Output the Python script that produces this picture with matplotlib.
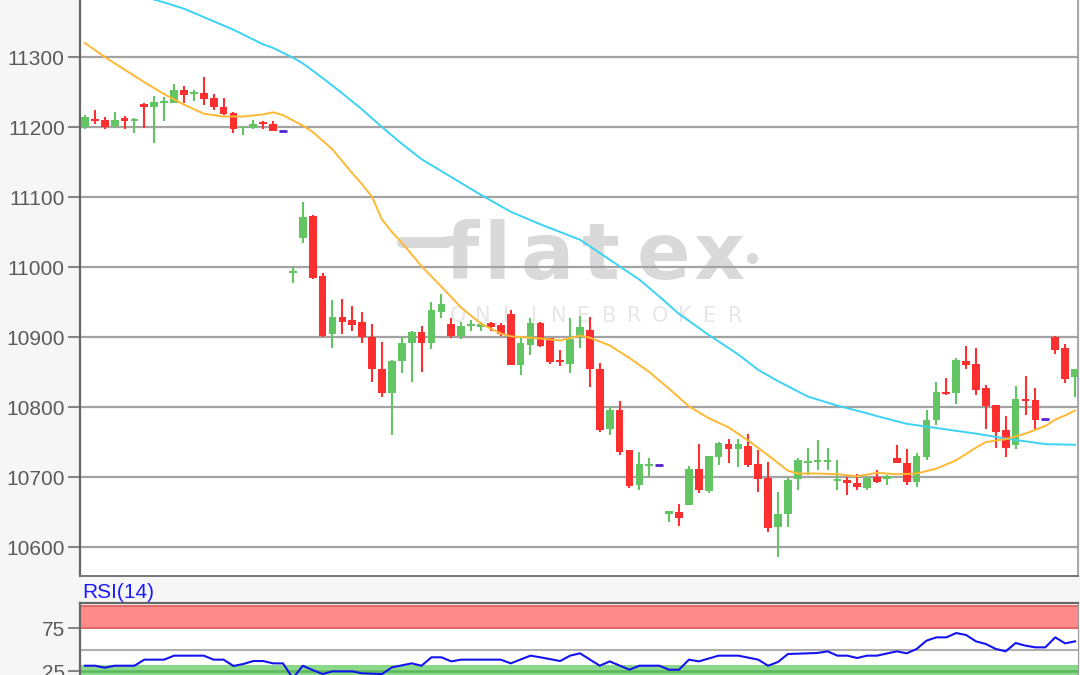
import matplotlib
matplotlib.use("Agg")
import matplotlib.pyplot as plt
import numpy as np

# ---------------- data ----------------
opens = [11200, 11212, 11210, 11201, 11213, 11209, 11233, 11229, 11234, 11235,
         11253, 11247, 11249, 11241, 11229, 11220, 11198, 11198, 11206, 11205,
         11195, 10992, 11042, 11073, 10987, 10905, 10929, 10924, 10921, 10900,
         10855, 10820, 10866, 10892, 10907, 10891, 10936, 10918, 10901, 10916,
         10915, 10920, 10917, 10933, 10860, 10889, 10920, 10898, 10867, 10862,
         10900, 10910, 10855, 10768, 10796, 10738, 10688, 10716, 10717, 10647,
         10650, 10660, 10712, 10680, 10729, 10747, 10740, 10744, 10719, 10698,
         10628, 10647, 10697, 10720, 10722, 10721, 10694, 10696, 10692, 10684,
         10700, 10697, 10727, 10720, 10693, 10728, 10782, 10822, 10820, 10866,
         10861, 10827, 10803, 10767, 10746, 10812, 10810, 10783, 10900, 10884,
         10843]
highs = [11217, 11224, 11215, 11222, 11216, 11213, 11235, 11245, 11243, 11261,
         11258, 11253, 11271, 11247, 11241, 11222, 11200, 11210, 11208, 11208,
         11195, 11000, 11093, 11075, 10992, 10953, 10955, 10945, 10936, 10918,
         10893, 10867, 10900, 10908, 10916, 10950, 10961, 10927, 10922, 10924,
         10922, 10922, 10920, 10939, 10900, 10927, 10922, 10898, 10881, 10927,
         10930, 10929, 10863, 10800, 10808, 10739, 10736, 10727, 10717, 10652,
         10661, 10716, 10747, 10730, 10750, 10755, 10754, 10761, 10739, 10722,
         10679, 10698, 10727, 10741, 10753, 10741, 10724, 10700, 10705, 10700,
         10710, 10703, 10746, 10740, 10734, 10796, 10836, 10841, 10870, 10887,
         10884, 10831, 10803, 10787, 10830, 10844, 10827, 10783, 10901, 10890,
         10854]
lows = [11197, 11205, 11197, 11199, 11197, 11191, 11199, 11177, 11208, 11234,
        11235, 11237, 11231, 11225, 11217, 11191, 11189, 11197, 11197, 11194,
        11195, 10977, 11034, 10983, 10900, 10885, 10905, 10908, 10891, 10836,
        10815, 10760, 10848, 10836, 10850, 10883, 10927, 10899, 10897, 10909,
        10908, 10908, 10901, 10860, 10846, 10874, 10886, 10862, 10858, 10848,
        10884, 10828, 10765, 10760, 10731, 10684, 10681, 10701, 10717, 10636,
        10630, 10660, 10677, 10677, 10717, 10720, 10715, 10715, 10679, 10622,
        10586, 10629, 10681, 10703, 10710, 10710, 10681, 10674, 10681, 10681,
        10691, 10689, 10720, 10689, 10686, 10724, 10774, 10817, 10805, 10854,
        10817, 10768, 10742, 10728, 10740, 10789, 10767, 10783, 10876, 10834,
        10815]
closes = [11215, 11209, 11200, 11210, 11209, 11211, 11229, 11236, 11236, 11253,
          11246, 11250, 11240, 11228, 11219, 11197, 11199, 11205, 11204, 11195,
          11195, 10994, 11072, 10985, 10901, 10929, 10922, 10917, 10900, 10854,
          10820, 10866, 10892, 10907, 10892, 10938, 10947, 10901, 10916, 10918,
          10918, 10914, 10905, 10860, 10891, 10920, 10887, 10865, 10865, 10897,
          10915, 10854, 10767, 10796, 10736, 10687, 10719, 10719, 10717, 10652,
          10642, 10712, 10682, 10730, 10749, 10740, 10747, 10717, 10697, 10627,
          10647, 10696, 10725, 10722, 10725, 10724, 10696, 10691, 10686, 10698,
          10693, 10701, 10720, 10693, 10730, 10781, 10822, 10819, 10867, 10860,
          10825, 10801, 10765, 10742, 10812, 10809, 10782, 10783, 10881, 10840,
          10854]

# moving averages (sampled at candle indices)
ma_fast_idx = [0, 2, 4, 6, 8, 10, 12, 14, 16, 18, 19, 20, 22, 23, 25, 27, 28, 29,
               30, 31, 32, 34, 36, 38, 40, 42, 43, 46, 48, 50, 51, 53, 55, 57, 59,
               61, 63, 65, 67, 69, 71, 72, 74, 76, 78, 80, 82, 84, 86, 87, 88, 90,
               91, 93, 95, 97, 98, 99, 100]
ma_fast_val = [11320, 11300, 11282, 11264, 11247, 11232, 11219, 11215, 11215, 11218,
               11221, 11217, 11202, 11193, 11168, 11134, 11118, 11100, 11068, 11050,
               11035, 11001, 10972, 10942, 10919, 10905, 10901, 10898, 10895, 10902,
               10899, 10888, 10870, 10850, 10826, 10801, 10784, 10771, 10752, 10731,
               10709, 10705, 10705, 10704, 10701, 10706, 10704, 10705, 10712, 10718,
               10724, 10742, 10750, 10754, 10762, 10773, 10782, 10788, 10795]
ma_slow_idx = [6, 8, 10, 12, 15, 18, 19, 21, 22, 24, 26, 28, 30, 32, 34, 36, 38, 40,
               43, 46, 50, 52, 54, 56, 58, 60, 63, 66, 68, 70, 73, 76, 79, 80, 83,
               86, 90, 93, 95, 97, 100]
ma_slow_val = [11386, 11378, 11369, 11357, 11339, 11318, 11313, 11299, 11291, 11270,
               11248, 11225, 11200, 11176, 11154, 11137, 11120, 11103, 11079, 11061,
               11039, 11020, 11001, 10982, 10958, 10933, 10903, 10875, 10853, 10837,
               10815, 10802, 10791, 10787, 10776, 10770, 10762, 10755, 10751, 10747,
               10746]

# RSI(14)
rsi_idx = [0, 1, 2, 3, 5, 6, 8, 9, 12, 13, 14, 15, 16, 17, 18, 19, 20, 21, 22, 23,
           24, 25, 27, 28, 30, 31, 33, 34, 35, 36, 37, 38, 42, 43, 45, 46, 48, 49,
           50, 52, 53, 55, 56, 58, 59, 60, 61, 62, 64, 66, 68, 69, 70, 71, 74, 75,
           76, 77, 78, 79, 80, 82, 83, 84, 85, 86, 87, 88, 89, 90, 91, 92, 93, 94,
           95, 96, 97, 98, 99, 100]
rsi_val = [31.5, 31.5, 29.2, 31.5, 31.5, 38.5, 38.5, 43.1, 43.1, 38.5, 38.5, 31.2,
           33.5, 36.9, 36.9, 34.2, 34.2, 17.0, 31.5, 26.5, 21.9, 25.0, 25.0, 22.7,
           21.9, 29.6, 34.2, 31.5, 41.2, 41.2, 36.5, 38.5, 38.5, 34.2, 43.1, 41.2,
           36.9, 43.1, 45.8, 31.5, 36.5, 26.9, 31.5, 31.5, 26.9, 26.9, 38.5, 36.5,
           43.1, 43.1, 38.5, 31.5, 35.8, 45.0, 46.2, 48.1, 43.1, 43.1, 40.4, 43.1,
           43.1, 48.1, 45.8, 50.8, 60.4, 64.2, 64.2, 69.2, 66.9, 59.6, 56.5, 50.8,
           48.1, 57.7, 54.6, 52.7, 52.7, 64.2, 57.3, 59.6]

price_ticks = [10600, 10700, 10800, 10900, 11000, 11100, 11200, 11300]
rsi_ticks = [25, 75]

# ---------------- style ----------------
W, H = 1080, 675
BG = "#f6f6f6"
UP = "#62c462"
DOWN = "#ff2f2f"
FLAT = "#5522cc"
FAST = "#ffb833"
SLOW = "#3cd2f5"
GRID = "#a3a3a3"
TXT = "#5a5a5a"

plt.rcParams["font.family"] = ["Liberation Sans", "DejaVu Sans"]

fig = plt.figure(figsize=(W / 100, H / 100), dpi=100, facecolor=BG)


def fx(x):
    return x / W


def fy(y):
    return 1 - y / H


# main price axes
ax = fig.add_axes([fx(80), fy(576), (1078 - 80) / W, (576 + 20) / H])
ax.set_facecolor("white")
ax.set_xlim(-0.5, 100.3)
ax.set_ylim(10558.6, 11410)

idx = np.arange(len(opens))
o = np.array(opens, float)
c = np.array(closes, float)
hi = np.array(highs, float)
lo = np.array(lows, float)

flat = (o == c) & (hi == lo)
up = (c > o) & ~flat
cols = np.where(up, UP, DOWN)

# wicks
ax.vlines(idx[~flat], lo[~flat], hi[~flat], colors=cols[~flat], lw=1.5, zorder=2)
# bodies
bottom = np.minimum(o, c)
height = np.maximum(np.abs(c - o), 2.5)
ax.bar(idx[~flat], height[~flat], bottom=bottom[~flat], width=0.78,
       color=cols[~flat], edgecolor="none", zorder=3)
# flat (no trade) markers
ax.hlines(c[flat], idx[flat] - 0.42, idx[flat] + 0.42, colors=FLAT, lw=2.0, zorder=3)

# moving averages
ax.plot(ma_slow_idx, ma_slow_val, color=SLOW, lw=1.4, zorder=4)
ax.plot(ma_fast_idx, ma_fast_val, color=FAST, lw=1.4, zorder=4)

ax.set_yticks(price_ticks)
ax.set_xticks([])
ax.yaxis.grid(True, color=GRID, lw=1.6, zorder=1)
ax.set_axisbelow(True)
ax.tick_params(axis="y", length=9, width=1.3, color="#7a7a7a", labelsize=15,
               labelcolor=TXT, pad=2)
ax.spines["top"].set_visible(False)
ax.spines["left"].set_color("#666666")
ax.spines["left"].set_linewidth(1.6)
ax.spines["bottom"].set_color("#777777")
ax.spines["bottom"].set_linewidth(1.4)
ax.spines["right"].set_color("#999999")
ax.spines["right"].set_linewidth(1.2)

# watermark (flatex logo)
wm = "#d9d9d9"
ax.plot([fx(402), fx(446)], [fy(242), fy(242)], color=wm, lw=8, solid_capstyle="round",
        transform=fig.transFigure, zorder=0.5, clip_on=False)
for ch, xc in zip("flatex", [462, 497, 547, 601, 664, 719]):
    ax.text(fx(xc), fy(279), ch, transform=fig.transFigure, color=wm, fontsize=57,
            fontweight="bold", family="DejaVu Sans", ha="center", va="baseline",
            zorder=0.5)
ax.plot([fx(752)], [fy(258)], "o", ms=7, color=wm, transform=fig.transFigure,
        zorder=0.5, clip_on=False)
for k, ch in enumerate("ONLINEBROKER"):
    ax.text(fx(458 + 25.2 * k), fy(316), ch, transform=fig.transFigure, color="#e6e6e6",
            fontsize=15, ha="center", va="center", family="DejaVu Sans", zorder=0.5)

# RSI axes
r_top, r_scale = 603, 0.867
r_max = 75 + (628 - r_top) / r_scale
r_h = r_max * r_scale
ax2 = fig.add_axes([fx(80), fy(r_top + r_h), (1078 - 80) / W, r_h / H])
ax2.set_facecolor("white")
ax2.set_xlim(-0.5, 100.3)
ax2.set_ylim(0, r_max)
ax2.axhspan(75, 100, color="#ff8a8a", lw=0, zorder=1)
ax2.axhline(100, color="#de6a6a", lw=1.5, zorder=1.5)
ax2.axhline(75, color="#de6a6a", lw=1.5, zorder=1.5)
ax2.axhspan(0, 32, color="#8ad88a", lw=0, zorder=1)
ax2.axhline(25, color="#5cb85c", lw=1.8, zorder=1.5)
ax2.axhline(50, color="#b0b0b0", lw=1.5, zorder=1.5)
ax2.plot(rsi_idx, rsi_val, color="#1414ee", lw=1.5, zorder=3)
ax2.set_yticks(rsi_ticks)
ax2.set_xticks([])
ax2.tick_params(axis="y", length=9, width=1.3, color="#7a7a7a", labelsize=15,
                labelcolor=TXT, pad=2)
ax2.spines["left"].set_color("#666666")
ax2.spines["left"].set_linewidth(1.6)
ax2.spines["top"].set_color("#666666")
ax2.spines["top"].set_linewidth(1.6)
ax2.spines["right"].set_color("#999999")

fig.text(fx(82), fy(592), "RSI(14)", color="#1a1aff", fontsize=15, ha="left",
         va="center")

fig.savefig("out.png", dpi=100, facecolor=BG)
